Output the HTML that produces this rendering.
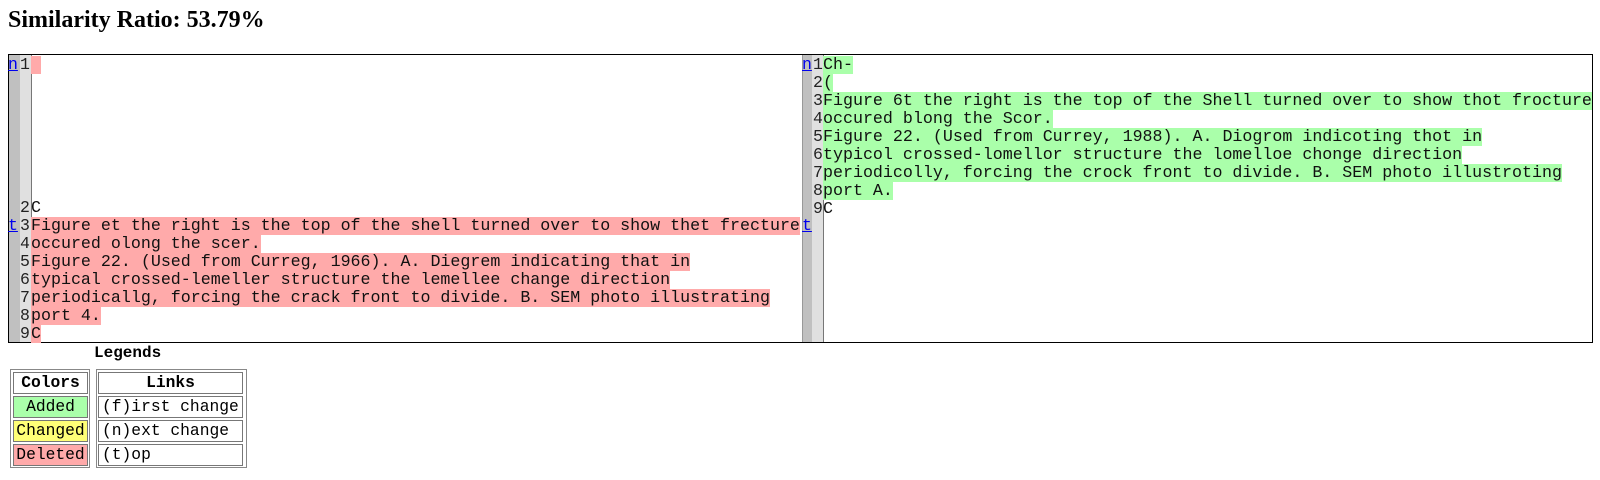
<!DOCTYPE html>
<html><head><meta charset="utf-8"><style>
body{margin:0;width:1600px;height:480px;background:#fff;position:relative;overflow:hidden;font-family:"Liberation Mono",monospace;}
.h{position:absolute;left:8px;top:7px;font:bold 24px "Liberation Serif",serif;white-space:nowrap;}
.tb{position:absolute;left:8px;top:54px;width:1585px;height:289px;border:1px solid #000;box-sizing:border-box;}
.col{position:absolute;top:0;height:100%;}
.l{position:absolute;font-size:16.65px;line-height:18px;height:18px;white-space:pre;color:#111;}
.d{background:#ffaaaa}.a{background:#aaffaa}
.lk{position:absolute;font-size:16.5px;line-height:18px;color:#0000ee;text-decoration:underline;}
.num{position:absolute;font-size:16.5px;line-height:18px;color:#222;}
.lg{position:absolute;font-size:16.3px;box-sizing:border-box;border:1px solid #777;text-align:center;line-height:20px;white-space:pre;}
.ot{position:absolute;border:1px solid #888;box-sizing:border-box;}
</style></head><body>
<div class="h">Similarity Ratio: 53.79%</div>
<div class="tb">
 <div class="col" style="left:0;width:11px;background:#c0c0c0"></div>
 <div class="col" style="left:11px;width:11px;background:#e0e0e0;border-right:1px solid #777"></div>
 <div class="col" style="left:793px;width:10px;background:#c0c0c0;border-left:1px solid #999"></div>
 <div class="col" style="left:803px;width:11px;background:#e0e0e0;border-right:1px solid #777"></div>
</div>
<!-- left -->
<span class="lk" style="left:8px;top:56px">n</span>
<span class="lk" style="left:8px;top:217px">t</span>
<span class="num" style="left:20px;top:56px">1</span>
<span class="l d" style="left:31px;top:56px;width:10px"> </span>
<span class="num" style="left:20px;top:199px">2</span><span class="l" style="left:31px;top:199px">C</span>
<span class="num" style="left:20px;top:217px">3</span><span class="l d" style="left:31px;top:217px">Figure et the right is the top of the shell turned over to show thet frecture</span>
<span class="num" style="left:20px;top:235px">4</span><span class="l d" style="left:31px;top:235px">occured olong the scer.</span>
<span class="num" style="left:20px;top:253px">5</span><span class="l d" style="left:31px;top:253px">Figure 22. (Used from Curreg, 1966). A. Diegrem indicating that in</span>
<span class="num" style="left:20px;top:271px">6</span><span class="l d" style="left:31px;top:271px">typical crossed-lemeller structure the lemellee change direction</span>
<span class="num" style="left:20px;top:289px">7</span><span class="l d" style="left:31px;top:289px">periodicallg, forcing the crack front to divide. B. SEM photo illustrating</span>
<span class="num" style="left:20px;top:307px">8</span><span class="l d" style="left:31px;top:307px">port 4.</span>
<span class="num" style="left:20px;top:325px">9</span><span class="l d" style="left:31px;top:325px">C</span>
<!-- right -->
<span class="lk" style="left:802px;top:56px">n</span>
<span class="lk" style="left:802px;top:217px">t</span>
<span class="num" style="left:813px;top:56px">1</span><span class="l a" style="left:823px;top:56px">Ch-</span>
<span class="num" style="left:813px;top:74px">2</span><span class="l a" style="left:823px;top:74px">(</span>
<span class="num" style="left:813px;top:92px">3</span><span class="l a" style="left:823px;top:92px">Figure 6t the right is the top of the Shell turned over to show thot frocture</span>
<span class="num" style="left:813px;top:110px">4</span><span class="l a" style="left:823px;top:110px">occured blong the Scor.</span>
<span class="num" style="left:813px;top:128px">5</span><span class="l a" style="left:823px;top:128px">Figure 22. (Used from Currey, 1988). A. Diogrom indicoting thot in</span>
<span class="num" style="left:813px;top:146px">6</span><span class="l a" style="left:823px;top:146px">typicol crossed-lomellor structure the lomelloe chonge direction</span>
<span class="num" style="left:813px;top:164px">7</span><span class="l a" style="left:823px;top:164px">periodicolly, forcing the crock front to divide. B. SEM photo illustroting</span>
<span class="num" style="left:813px;top:182px">8</span><span class="l a" style="left:823px;top:182px">port A.</span>
<span class="num" style="left:813px;top:200px">9</span><span class="l" style="left:823px;top:200px">C</span>
<!-- legend -->
<div style="position:absolute;left:94px;top:344px;font:bold 16px 'Liberation Mono',monospace">Legends</div>
<div class="ot" style="left:10px;top:369px;width:80px;height:99px"></div>
<div class="ot" style="left:96px;top:369px;width:151px;height:99px"></div>
<div class="lg" style="left:13px;top:372px;width:75px;height:22px;font-weight:bold">Colors</div>
<div class="lg" style="left:13px;top:396px;width:75px;height:22px;background:#aaffaa">Added</div>
<div class="lg" style="left:13px;top:420px;width:75px;height:22px;background:#ffff77">Changed</div>
<div class="lg" style="left:13px;top:444px;width:75px;height:22px;background:#ffaaaa">Deleted</div>
<div class="lg" style="left:98px;top:372px;width:145px;height:22px;font-weight:bold">Links</div>
<div class="lg" style="left:98px;top:396px;width:145px;height:22px;text-align:left;padding-left:3px">(f)irst change</div>
<div class="lg" style="left:98px;top:420px;width:145px;height:22px;text-align:left;padding-left:3px">(n)ext change</div>
<div class="lg" style="left:98px;top:444px;width:145px;height:22px;text-align:left;padding-left:3px">(t)op</div>
</body></html>
